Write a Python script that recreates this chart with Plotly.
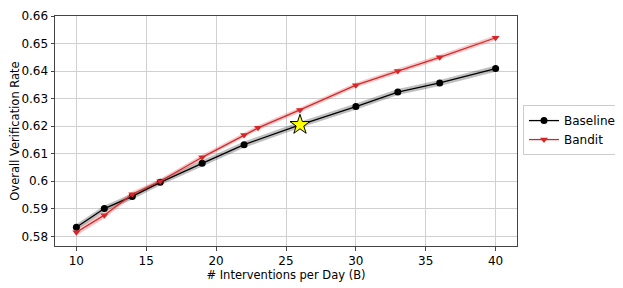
import plotly.graph_objects as go

base_x = [10, 12, 14, 16, 19, 22, 26, 30, 33, 36, 40]
base_y = [0.5833, 0.5901, 0.5945, 0.5996, 0.6065, 0.6133, 0.6205, 0.6271, 0.6324, 0.6357, 0.6409]
base_err = [0.0011, 0.0011, 0.0011, 0.0010, 0.0011, 0.0011, 0.0011, 0.0011, 0.0011, 0.0011, 0.0011]

band_x = [10, 12, 14, 16, 19, 22, 23, 26, 30, 33, 36, 40]
band_y = [0.5815, 0.5877, 0.5953, 0.6000, 0.6087, 0.6168, 0.6194, 0.6259, 0.6349, 0.6400, 0.6450, 0.6521]
band_err = [0.0012, 0.0012, 0.0010, 0.0009, 0.0009, 0.0009, 0.0009, 0.0009, 0.0009, 0.0009, 0.0009, 0.0009]

star_x = [26]
star_y = [0.6205]

x_ticks = [10, 15, 20, 25, 30, 35, 40]
y_ticks = [0.58, 0.59, 0.60, 0.61, 0.62, 0.63, 0.64, 0.65, 0.66]
y_labels = ["0.58", "0.59", "0.6", "0.61", "0.62", "0.63", "0.64", "0.65", "0.66"]

fig = go.Figure()

def band(x, y, e, color):
    up = [a + b for a, b in zip(y, e)]
    lo = [a - b for a, b in zip(y, e)]
    fig.add_trace(go.Scatter(x=x + x[::-1], y=up + lo[::-1], fill="toself",
                             fillcolor=color, line=dict(width=0), mode="lines",
                             showlegend=False, hoverinfo="skip"))

band(base_x, base_y, base_err, "rgba(0,0,0,0.25)")
band(band_x, band_y, band_err, "rgba(214,39,40,0.25)")

fig.add_trace(go.Scatter(x=base_x, y=base_y, mode="lines+markers", name="Baseline",
                         line=dict(color="black", width=1.3),
                         marker=dict(symbol="circle", size=7, color="black")))
fig.add_trace(go.Scatter(x=band_x, y=band_y, mode="lines+markers", name="Bandit",
                         line=dict(color="#d62728", width=1.3),
                         marker=dict(symbol="triangle-down", size=7, color="#d62728")))
fig.add_trace(go.Scatter(x=star_x, y=star_y, mode="markers", showlegend=False,
                         marker=dict(symbol="star", size=15, color="yellow",
                                     line=dict(color="black", width=1))))

fig.update_layout(
    width=615, height=280, autosize=False,
    margin=dict(l=47, r=106, t=8, b=42, autoexpand=False),
    paper_bgcolor="white", plot_bgcolor="white",
    font=dict(family="DejaVu Sans", size=12, color="black"),
    legend=dict(xref="container", yref="container", x=0.8374, y=0.564,
                xanchor="left", yanchor="middle",
                bordercolor="#cccccc", borderwidth=1, font=dict(size=12),
                tracegroupgap=0),
    xaxis=dict(range=[8.47, 41.53], tickvals=x_ticks, showgrid=True, automargin=False,
               gridcolor="#d0d0d0", gridwidth=1, showline=True, linecolor="#444",
               linewidth=1, mirror=True, ticks="outside", ticklen=3.5,
               tickcolor="#444", zeroline=False, tickfont=dict(size=12),
               title=dict(text="# Interventions per Day (B)", font=dict(size=11.5), standoff=2)),
    yaxis=dict(range=[0.5765, 0.66], tickvals=y_ticks, ticktext=y_labels, showgrid=True,
               automargin=False,
               gridcolor="#d0d0d0", gridwidth=1, showline=True, linecolor="#444",
               linewidth=1, mirror=True, ticks="outside", ticklen=3.5,
               tickcolor="#444", zeroline=False, tickfont=dict(size=12),
               title=dict(text="Overall Verification Rate", font=dict(size=11.5), standoff=4)),
)

fig.write_html("out.html")
